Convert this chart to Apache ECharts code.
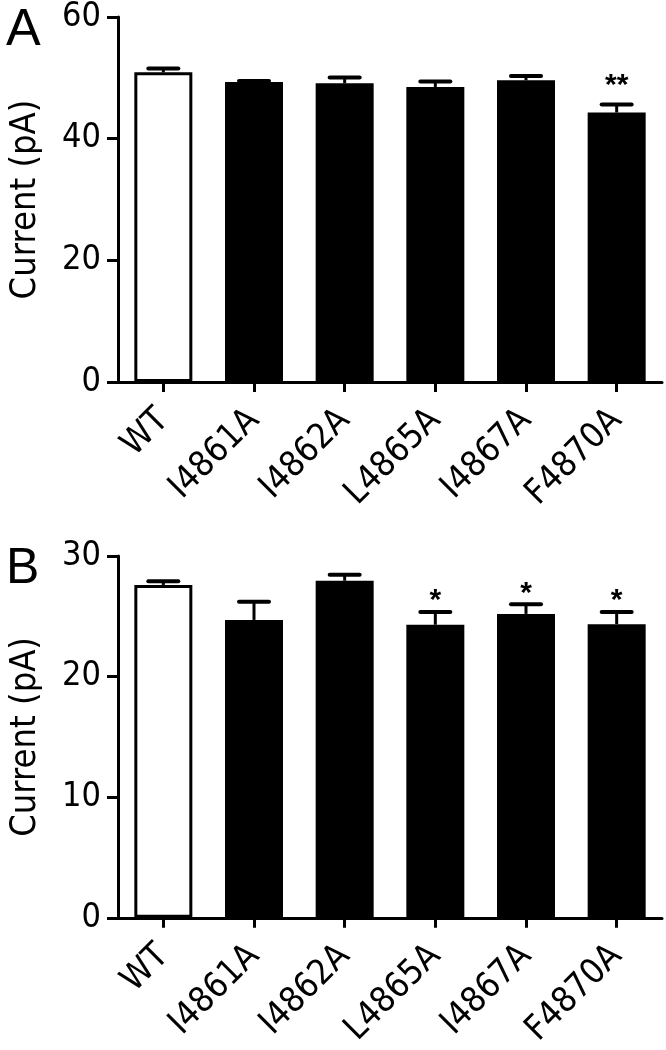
<!DOCTYPE html>
<html>
<head>
<meta charset="utf-8">
<script src="https://cdn.jsdelivr.net/npm/echarts@6/dist/echarts.min.js"></script>
<style>
html,body{margin:0;padding:0;background:#fff;}
#c{width:666px;height:1050px;}
</style>
</head>
<body>
<div id="c"></div>
<script>
// ---- data ----
const categories = ['WT', 'I4861A', 'I4862A', 'L4865A', 'I4867A', 'F4870A'];
const meanA = [50.9, 49.3, 49.1, 48.5, 49.6, 44.3];
const semA  = [0.65, 0.2, 0.95, 0.9, 0.7, 1.3];
const starsA = ['', '', '', '', '', '**'];
const meanB = [27.6, 24.7, 27.95, 24.3, 25.2, 24.35];
const semB  = [0.3, 1.5, 0.5, 1.05, 0.8, 1.0];
const starsB = ['', '', '', '*', '*', '*'];
const yTicksA = { min: 0, max: 60, interval: 20 };
const yTicksB = { min: 0, max: 30, interval: 10 };

const TICK_FONT = "'DejaVu Sans Condensed', 'Liberation Sans Narrow', 'Liberation Sans', sans-serif";
const FONT = "'Liberation Sans', Arial, sans-serif";

const chart = echarts.init(document.getElementById('c'), null, { renderer: 'canvas' });

function makeErrRenderer(stars, starGap) {
  return function (params, api) {
    const x = api.value(0), m = api.value(1), e = api.value(2);
    const base = api.coord([x, m]);
    const top = api.coord([x, m + e]);
    const children = [
      { type: 'line', shape: { x1: base[0], y1: base[1], x2: top[0], y2: top[1] },
        style: { stroke: '#000', lineWidth: 3 } },
      { type: 'line', shape: { x1: top[0] - 15, y1: top[1], x2: top[0] + 15, y2: top[1] },
        style: { stroke: '#000', lineWidth: 4, lineCap: 'round' } }
    ];
    const s = stars[params.dataIndex];
    if (s) {
      children.push({ type: 'text', x: top[0], y: top[1] - starGap,
        style: { text: s, align: 'center', verticalAlign: 'bottom', fill: '#000',
                 font: "bold 30px 'Liberation Sans', Arial, sans-serif" } });
    }
    return { type: 'group', children: children };
  };
}

function yAxis(gridIndex, ticks) {
  return {
    type: 'value', gridIndex: gridIndex,
    min: ticks.min, max: ticks.max, interval: ticks.interval,
    name: 'Current (pA)', nameLocation: 'middle', nameGap: 74, nameRotate: 90,
    nameTextStyle: { fontFamily: TICK_FONT, fontSize: 36, color: '#000' },
    axisLine: { show: true, lineStyle: { color: '#000', width: 3 } },
    axisTick: { show: true, length: 11, lineStyle: { color: '#000', width: 3 } },
    axisLabel: { color: '#000', fontFamily: TICK_FONT, fontSize: 34, margin: 17 },
    splitLine: { show: false }
  };
}
function xAxis(gridIndex) {
  return {
    type: 'category', gridIndex: gridIndex, data: categories,
    axisLine: { show: true, lineStyle: { color: '#000', width: 3 } },
    axisTick: { show: true, alignWithLabel: true, length: 10, lineStyle: { color: '#000', width: 3 } },
    axisLabel: { color: '#000', fontFamily: TICK_FONT, fontSize: 35, rotate: 45, margin: 33, interval: 0 },
    splitLine: { show: false }
  };
}
function barSeries(idx, data) {
  return {
    type: 'bar', xAxisIndex: idx, yAxisIndex: idx, data: data, barWidth: 58,
    itemStyle: {
      color: p => p.dataIndex === 0 ? '#fff' : '#000',
      borderColor: '#000', borderWidth: 3
    },
    silent: true, animation: false
  };
}
function errSeries(idx, mean, sem, stars, starGap) {
  return {
    type: 'custom', xAxisIndex: idx, yAxisIndex: idx,
    data: mean.map((m, i) => [i, m, sem[i]]),
    encode: { x: 0, y: [1, 2] },
    renderItem: makeErrRenderer(stars, starGap), z: 5, silent: true, animation: false, clip: false
  };
}

chart.setOption({
  animation: false,
  backgroundColor: '#fff',
  title: [
    { text: 'A', left: 1, top: 0, textStyle: { fontFamily: FONT, fontSize: 52, fontWeight: 'normal', color: '#000' } },
    { text: 'B', left: 1, top: 539, textStyle: { fontFamily: FONT, fontSize: 50, fontWeight: 'normal', color: '#000' } }
  ],
  grid: [
    { left: 116, right: 4, top: 17, height: 365 },
    { left: 116, right: 4, top: 556, height: 363 }
  ],
  xAxis: [xAxis(0), xAxis(1)],
  yAxis: [yAxis(0, yTicksA), yAxis(1, yTicksB)],
  series: [
    barSeries(0, meanA), errSeries(0, meanA, semA, starsA, 4),
    barSeries(1, meanB), errSeries(1, meanB, semB, starsB, -4)
  ]
});
</script>
</body>
</html>
